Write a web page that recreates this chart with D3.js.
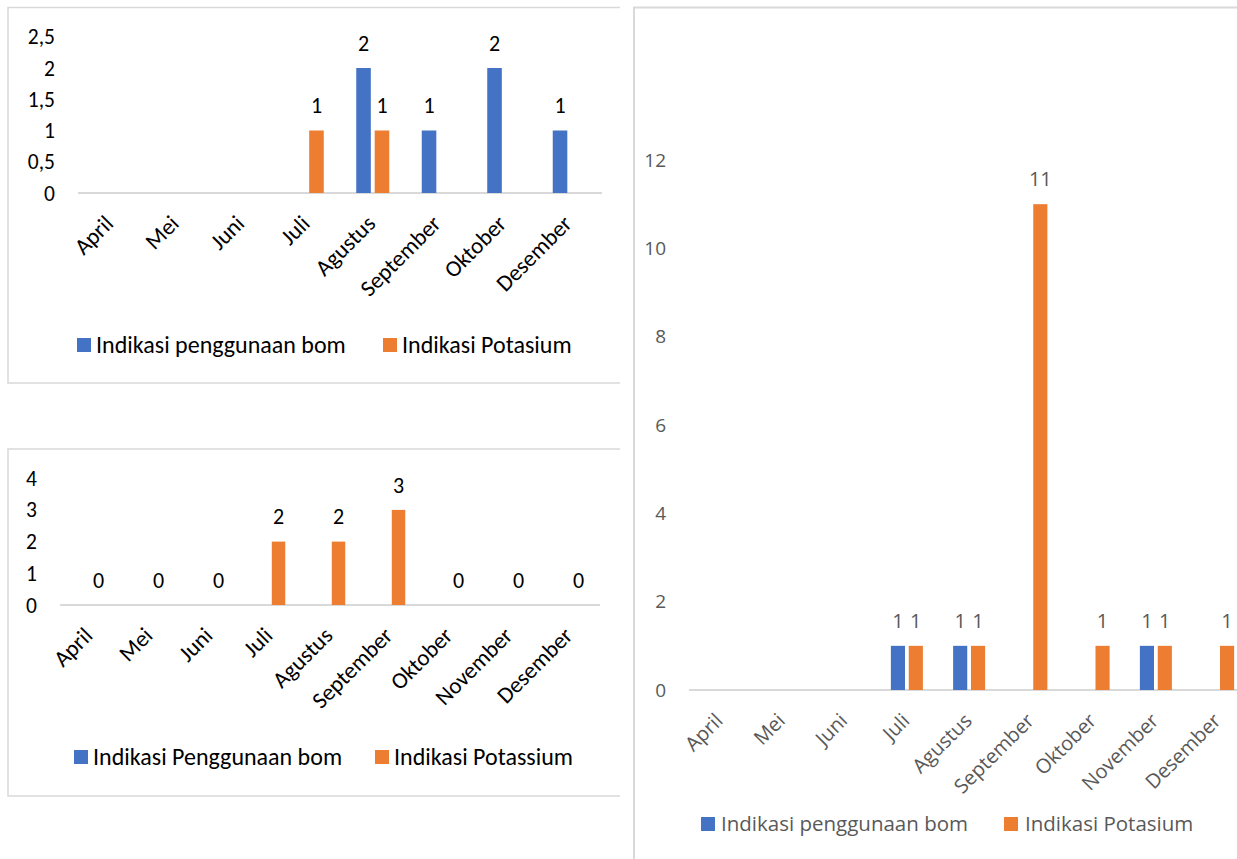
<!DOCTYPE html>
<html>
<head>
<meta charset="utf-8">
<script src="https://cdn.jsdelivr.net/npm/d3@7"></script>
<style>
  body { margin: 0; background: #fff; }
  svg { display: block; }
</style>
</head>
<body>
<svg width="1237" height="859"></svg>
<script>
// chart 1 (top left)
var months1 = ["April", "Mei", "Juni", "Juli", "Agustus", "September", "Oktober", "Desember"];
var bom1 = [null, null, null, null, 2, 1, 2, 1];
var pot1 = [null, null, null, 1, 1, null, null, null];
var ticks1 = [0, 0.5, 1, 1.5, 2, 2.5];

// chart 2 (bottom left)
var months2 = ["April", "Mei", "Juni", "Juli", "Agustus", "September", "Oktober", "November", "Desember"];
var bom2 = [null, null, null, null, null, null, null, null, null];
var pot2 = [0, 0, 0, 2, 2, 3, 0, 0, 0];
var ticks2 = [0, 1, 2, 3, 4];

// chart 3 (right)
var months3 = ["April", "Mei", "Juni", "Juli", "Agustus", "September", "Oktober", "November", "Desember"];
var bom3 = [null, null, null, 1, 1, null, null, 1, null];
var pot3 = [null, null, null, 1, 1, 11, 1, 1, 1];
var ticks3 = [0, 2, 4, 6, 8, 10, 12];

var blue = "#4472C4", orange = "#ED7D31";
var svg = d3.select("svg");

// panel frames
svg.append("path").attr("d", "M620,7.5H8V383H620")
  .attr("fill", "none").attr("stroke", "#d9d9d9").attr("stroke-width", 1.5);
svg.append("path").attr("d", "M620,449H8V796H620")
  .attr("fill", "none").attr("stroke", "#d9d9d9").attr("stroke-width", 1.5);
svg.append("path").attr("d", "M1240,7.5H634V862")
  .attr("fill", "none").attr("stroke", "#d9d9d9").attr("stroke-width", 2);

function drawChart(c) {
  var g = svg.append("g")
    .style("font-family", c.font)
    .attr("fill", c.color);

  var x0 = d3.scaleBand().domain(c.months).range([c.x0, c.x1]);
  var x1 = d3.scaleBand().domain(["bom", "pot"]).range([0, c.pairW]).paddingInner(0.21);
  var y = d3.scaleLinear().domain([0, c.ticks[c.ticks.length - 1]]).range([c.base, c.top]);
  var off = (x0.bandwidth() - c.pairW) / 2;

  // y tick labels
  g.selectAll(".yt").data(c.ticks).enter().append("text")
    .attr("x", c.tickX)
    .attr("y", function(d) { return y(d); })
    .attr("dy", "0.35em")
    .attr("text-anchor", "end")
    .style("font-size", c.tickSize + "px")
    .text(function(d) { return String(d).replace(".", ","); });

  // baseline
  g.append("line")
    .attr("x1", c.x0).attr("x2", c.x1)
    .attr("y1", c.base).attr("y2", c.base)
    .attr("stroke", "#d9d9d9").attr("stroke-width", 2);

  var series = [
    {key: "bom", vals: c.bom, color: blue, labels: c.bomLabels},
    {key: "pot", vals: c.pot, color: orange, labels: true}
  ];

  series.forEach(function(s) {
    var pts = c.months.map(function(m, i) { return {m: m, v: s.vals[i]}; })
      .filter(function(d) { return d.v !== null; });

    g.selectAll(".bar-" + s.key).data(pts.filter(function(d) { return d.v > 0; }))
      .enter().append("rect")
      .attr("x", function(d) { return x0(d.m) + off + x1(s.key); })
      .attr("width", x1.bandwidth())
      .attr("y", function(d) { return y(d.v); })
      .attr("height", function(d) { return c.base - y(d.v); })
      .attr("fill", s.color);

    if (s.labels) {
      g.selectAll(".lab-" + s.key).data(pts).enter().append("text")
        .attr("x", function(d) { return x0(d.m) + off + x1(s.key) + x1.bandwidth() / 2; })
        .attr("y", function(d) { return y(d.v) - 25; })
        .attr("dy", "0.35em")
        .attr("text-anchor", "middle")
        .style("font-size", c.labelSize + "px")
        .text(function(d) { return d.v; });
    }
  });

  // x labels rotated
  g.selectAll(".xl").data(c.months).enter().append("text")
    .attr("transform", function(d) {
      return "translate(" + (x0(d) + x0.bandwidth() / 2 + 4) + "," + (c.base + 32) + ") rotate(-45)";
    })
    .attr("text-anchor", "end")
    .style("font-size", c.xSize + "px")
    .text(function(d) { return d; });

  // legend
  var leg = g.append("g").style("font-size", c.legSize + "px");
  c.legend.forEach(function(l, i) {
    leg.append("rect")
      .attr("x", l.sx).attr("y", c.legY - 7)
      .attr("width", 14).attr("height", 14)
      .attr("fill", i === 0 ? blue : orange);
    leg.append("text")
      .attr("x", l.tx).attr("y", c.legY)
      .attr("dy", "0.35em")
      .text(l.text);
  });
}

drawChart({
  months: months1, bom: bom1, pot: pot1, ticks: ticks1, bomLabels: true,
  x0: 78, x1: 602, base: 193, top: 36.75, pairW: 33,
  tickX: 55, font: "Calibri, Carlito, Lato, sans-serif", color: "#000",
  tickSize: 21.5, labelSize: 22, xSize: 23, legSize: 24,
  legY: 345,
  legend: [
    {sx: 77, tx: 96, text: "Indikasi penggunaan bom"},
    {sx: 383, tx: 402, text: "Indikasi Potasium"}
  ]
});

drawChart({
  months: months2, bom: bom2, pot: pot2, ticks: ticks2, bomLabels: false,
  x0: 60, x1: 600, base: 605, top: 478.2, pairW: 30.5,
  tickX: 37, font: "Calibri, Carlito, Lato, sans-serif", color: "#000",
  tickSize: 21.5, labelSize: 22, xSize: 23, legSize: 24,
  legY: 757,
  legend: [
    {sx: 74, tx: 93, text: "Indikasi Penggunaan bom"},
    {sx: 375, tx: 394, text: "Indikasi Potassium"}
  ]
});

drawChart({
  months: months3, bom: bom3, pot: pot3, ticks: ticks3, bomLabels: true,
  x0: 689, x1: 689 + 9 * 62.25, base: 690, top: 160, pairW: 32,
  tickX: 666, font: "'Segoe UI', 'Open Sans', sans-serif", color: "#595959",
  tickSize: 19, labelSize: 20, xSize: 20, legSize: 20.5,
  legY: 824,
  legend: [
    {sx: 701, tx: 721, text: "Indikasi penggunaan bom"},
    {sx: 1004, tx: 1025, text: "Indikasi Potasium"}
  ]
});
</script>
</body>
</html>
